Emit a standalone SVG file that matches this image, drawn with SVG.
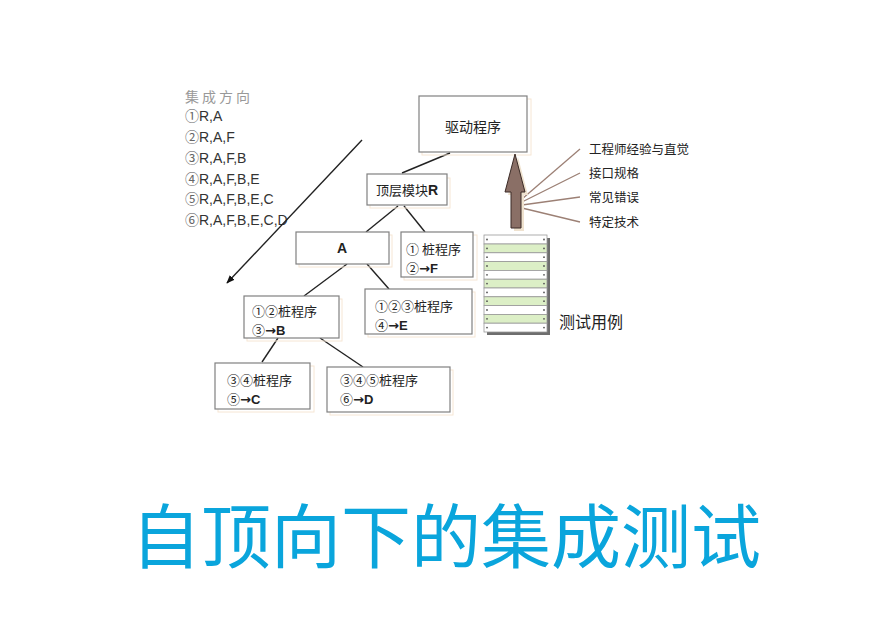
<svg xmlns="http://www.w3.org/2000/svg" width="886" height="641" viewBox="0 0 886 641">
<defs>
<style>
.box{fill:#fff;stroke:#808080;stroke-width:1.2}
.sh{fill:none;stroke:#f6e6d4;stroke-width:1}
.t{font-family:"Noto Sans CJK SC","Liberation Sans",sans-serif;font-size:13px;fill:#222}
.b{font-weight:bold;font-family:"Liberation Sans","Noto Sans CJK SC",sans-serif}
.ar{font-weight:bold;font-family:"DejaVu Sans",sans-serif}
.leg{font-family:"Liberation Sans","Noto Sans CJK SC",sans-serif;font-size:14px;fill:#333}
.cd{font-family:"Noto Sans CJK SC",serif;fill:#666;font-size:14px}
.lbl{font-family:"Noto Sans CJK SC",sans-serif;font-size:12.5px;fill:#222}
.con{stroke:#222;stroke-width:1.4;fill:none}
.fan{stroke:#9c8075;stroke-width:1.3;fill:none}
.rw{fill:#fff;stroke:#9a9a9a;stroke-width:0.8}
.rg{fill:#dcefc6;stroke:#9a9a9a;stroke-width:0.8}
.dot{fill:#555}
</style>
<marker id="ah" viewBox="0 0 10 10" refX="9" refY="5" markerWidth="6" markerHeight="6" orient="auto">
<path d="M0,1 L10,5 L0,9 z" fill="#111"/>
</marker>
</defs>
<rect width="886" height="641" fill="#fff"/>

<g id="legend">
<text x="185" y="102" style="fill:#999;letter-spacing:3px;font-family:'Noto Sans CJK SC',serif;font-size:14px">集成方向</text>
<text x="185" y="121" class="leg"><tspan class="cd">①</tspan>R,A</text>
<text x="185" y="142" class="leg"><tspan class="cd">②</tspan>R,A,F</text>
<text x="185" y="163" class="leg"><tspan class="cd">③</tspan>R,A,F,B</text>
<text x="185" y="184" class="leg"><tspan class="cd">④</tspan>R,A,F,B,E</text>
<text x="185" y="204" class="leg"><tspan class="cd">⑤</tspan>R,A,F,B,E,C</text>
<text x="185" y="225" class="leg"><tspan class="cd">⑥</tspan>R,A,F,B,E,C,D</text>
</g>

<g id="connectors">
<line x1="362" y1="140" x2="227" y2="283" class="con" marker-end="url(#ah)"/>
<line x1="450" y1="153" x2="402" y2="173" class="con"/>
<line x1="398" y1="206" x2="366" y2="232" class="con"/>
<line x1="404" y1="206" x2="425" y2="232" class="con"/>
<line x1="347" y1="264" x2="304" y2="296" class="con"/>
<line x1="367" y1="264" x2="389" y2="289" class="con"/>
<line x1="278" y1="338" x2="262" y2="362" class="con"/>
<line x1="320" y1="338" x2="363" y2="367" class="con"/>
<line x1="522" y1="199" x2="580" y2="149" class="fan"/>
<line x1="522" y1="202" x2="580" y2="173" class="fan"/>
<line x1="522" y1="205" x2="580" y2="197" class="fan"/>
<line x1="522" y1="208" x2="580" y2="222" class="fan"/>
</g>

<g id="driver">
<rect x="422" y="99" width="109" height="56" class="sh"/>
<rect x="419" y="96" width="108" height="56" class="box"/>
<text x="473" y="132" class="t" text-anchor="middle" style="font-size:14px">驱动程序</text>
</g>

<g id="moduleR">
<rect x="370" y="178" width="80" height="30" class="sh"/>
<rect x="367" y="174" width="80" height="31" class="box"/>
<text x="407" y="195" class="t" text-anchor="middle">顶层模块<tspan class="b" style="font-size:14px">R</tspan></text>
</g>

<g id="moduleA">
<rect x="299" y="235" width="93" height="32" class="sh"/>
<rect x="296" y="232" width="93" height="32" class="box"/>
<text x="342" y="253" class="t b" text-anchor="middle" style="font-size:14px">A</text>
</g>

<g id="stubF">
<rect x="404" y="235" width="73" height="45" class="sh"/>
<rect x="401" y="232" width="72" height="45" class="box"/>
<text x="406" y="254" class="t">① 桩程序</text>
<text x="406" y="273" class="t">②<tspan class="ar">→</tspan><tspan class="b">F</tspan></text>
</g>

<g id="stubB">
<rect x="247" y="299" width="95" height="42" class="sh"/>
<rect x="244" y="296" width="95" height="42" class="box"/>
<text x="252" y="316" class="t">①②桩程序</text>
<text x="252" y="335" class="t">③<tspan class="ar">→</tspan><tspan class="b">B</tspan></text>
</g>

<g id="stubE">
<rect x="368" y="292" width="107" height="45" class="sh"/>
<rect x="365" y="289" width="107" height="45" class="box"/>
<text x="375" y="311" class="t">①②③桩程序</text>
<text x="375" y="330" class="t">④<tspan class="ar">→</tspan><tspan class="b">E</tspan></text>
</g>

<g id="stubC">
<rect x="218" y="366" width="96" height="46" class="sh"/>
<rect x="215" y="363" width="95" height="46" class="box"/>
<text x="227" y="385" class="t">③④桩程序</text>
<text x="227" y="404" class="t">⑤<tspan class="ar">→</tspan><tspan class="b">C</tspan></text>
</g>

<g id="stubD">
<rect x="330" y="370" width="123" height="45" class="sh"/>
<rect x="327" y="367" width="123" height="45" class="box"/>
<text x="340" y="385" class="t">③④⑤桩程序</text>
<text x="340" y="404" class="t">⑥<tspan class="ar">→</tspan><tspan class="b">D</tspan></text>
</g>

<g id="arrow">
<path d="M518,157 L528,195 L524,195 L524,231 L514,231 L514,195 L508,195 z" fill="#efe2cf"/>
<path d="M515,154 L525,192 L521,192 L521,228 L511,228 L511,192 L505,192 z" fill="#8a6f66" stroke="#3b2b26" stroke-width="1"/>
</g>

<g id="labels">
<text x="589" y="154" class="lbl">工程师经验与直觉</text>
<text x="589" y="178" class="lbl">接口规格</text>
<text x="589" y="202" class="lbl">常见错误</text>
<text x="589" y="227" class="lbl">特定技术</text>
</g>

<g id="testcases">
<rect x="487" y="238" width="63" height="97" fill="#6e6e6e"/>
<rect x="484" y="235" width="63" height="9" class="rw"/>
<rect x="484" y="244" width="63" height="8.8" class="rg"/>
<rect x="484" y="252.8" width="63" height="8.8" class="rw"/>
<rect x="484" y="261.6" width="63" height="8.8" class="rg"/>
<rect x="484" y="270.4" width="63" height="8.8" class="rw"/>
<rect x="484" y="279.2" width="63" height="8.8" class="rg"/>
<rect x="484" y="288" width="63" height="8.8" class="rw"/>
<rect x="484" y="296.8" width="63" height="8.8" class="rg"/>
<rect x="484" y="305.6" width="63" height="8.8" class="rw"/>
<rect x="484" y="314.4" width="63" height="8.8" class="rg"/>
<rect x="484" y="323.2" width="63" height="8.8" class="rw"/>
<g class="dot">
<circle cx="487" cy="239.5" r="0.9"/><circle cx="544" cy="239.5" r="0.9"/>
<circle cx="487" cy="248.4" r="0.9"/><circle cx="544" cy="248.4" r="0.9"/>
<circle cx="487" cy="257.2" r="0.9"/><circle cx="544" cy="257.2" r="0.9"/>
<circle cx="487" cy="266" r="0.9"/><circle cx="544" cy="266" r="0.9"/>
<circle cx="487" cy="274.8" r="0.9"/><circle cx="544" cy="274.8" r="0.9"/>
<circle cx="487" cy="283.6" r="0.9"/><circle cx="544" cy="283.6" r="0.9"/>
<circle cx="487" cy="292.4" r="0.9"/><circle cx="544" cy="292.4" r="0.9"/>
<circle cx="487" cy="301.2" r="0.9"/><circle cx="544" cy="301.2" r="0.9"/>
<circle cx="487" cy="310" r="0.9"/><circle cx="544" cy="310" r="0.9"/>
<circle cx="487" cy="318.8" r="0.9"/><circle cx="544" cy="318.8" r="0.9"/>
<circle cx="487" cy="327.6" r="0.9"/><circle cx="544" cy="327.6" r="0.9"/>
</g>
<text x="559" y="328" class="t" style="font-size:16px">测试用例</text>
</g>

<text x="446" y="563" text-anchor="middle" style="font-family:'Noto Sans CJK SC',sans-serif;font-size:70px;fill:#0aa5dc">自顶向下的集成测试</text>
</svg>
